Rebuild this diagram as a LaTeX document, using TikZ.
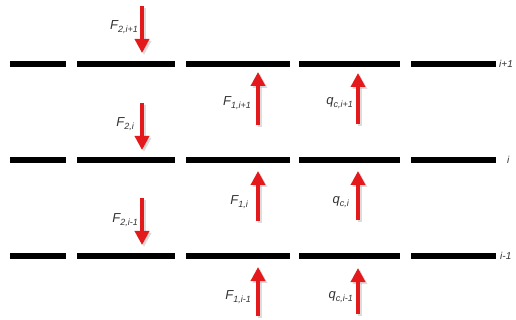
\documentclass[tikz,border=0pt]{standalone}
\usepackage{fontspec}
\setmainfont{Liberation Sans}
\usetikzlibrary{arrows.meta}
\definecolor{arrred}{HTML}{E3191C}
\definecolor{txtgray}{HTML}{333333}
\newcommand\symlbl[2]{\itshape #1\raisebox{-0.45ex}{\fontsize{9}{10}\selectfont #2}}
\tikzset{
  bar/.style={line width=6pt, black},
  force/.style={line width=3.4pt, arrred, -{Triangle[width=14pt,length=14pt]}},
  fshadow/.style={line width=3.4pt, black!30, opacity=0.45, -{Triangle[width=14pt,length=14pt]}},
  lbl/.style={anchor=east, inner sep=0pt, text=txtgray, font=\fontsize{13}{14}\selectfont},
  lvl/.style={anchor=west, inner sep=0pt, text=txtgray, font=\itshape\fontsize{10}{11}\selectfont}
}
\begin{document}
\begin{tikzpicture}[x=1pt,y=-1pt]
\useasboundingbox (0,0) rectangle (516,320);
% bars
\foreach \yy in {64,160,256}{
  \draw[bar] (10,\yy) -- (66,\yy);
  \draw[bar] (77,\yy) -- (175,\yy);
  \draw[bar] (186,\yy) -- (290,\yy);
  \draw[bar] (299,\yy) -- (400,\yy);
  \draw[bar] (411,\yy) -- (496,\yy);
}
% level labels
\node[lvl] (l1) at (499,64) {i+1};
\node[lvl] (l2) at (507,160) {i};
\node[lvl] (l3) at (500,256) {i-1};
% arrow coordinates
\coordinate (d1s) at (142,6);   \coordinate (d1e) at (142,53);
\coordinate (d2s) at (142,103); \coordinate (d2e) at (142,150);
\coordinate (d3s) at (142,198); \coordinate (d3e) at (142,245);
\coordinate (u1s) at (258,125); \coordinate (u1e) at (258,72);
\coordinate (u2s) at (258,221); \coordinate (u2e) at (258,171);
\coordinate (u3s) at (258,316); \coordinate (u3e) at (258,267);
\coordinate (q1s) at (358,124); \coordinate (q1e) at (358,73);
\coordinate (q2s) at (358,220); \coordinate (q2e) at (358,171);
\coordinate (q3s) at (358,314); \coordinate (q3e) at (358,268);
% shadows
\foreach \a in {d1,d2,d3,u1,u2,u3,q1,q2,q3}{
  \draw[fshadow] ([shift={(2,2)}]\a s) -- ([shift={(2,2)}]\a e);
}
% arrows
\foreach \a in {d1,d2,d3,u1,u2,u3,q1,q2,q3}{
  \draw[force] (\a s) -- (\a e);
}
% labels
\node[lbl] (t1) at (138,27) {\symlbl{F}{2,i+1}};
\node[lbl] (t2) at (134,124) {\symlbl{F}{2,i}};
\node[lbl] (t3) at (138,220) {\symlbl{F}{2,i-1}};
\node[lbl] (t4) at (251,103) {\symlbl{F}{1,i+1}};
\node[lbl] (t5) at (248,202) {\symlbl{F}{1,i}};
\node[lbl] (t6) at (251,297) {\symlbl{F}{1,i-1}};
\node[lbl] (t7) at (353,103) {\symlbl{q}{c,i+1}};
\node[lbl] (t8) at (349,202) {\symlbl{q}{c,i}};
\node[lbl] (t9) at (353,297) {\symlbl{q}{c,i-1}};
\end{tikzpicture}
\end{document}
